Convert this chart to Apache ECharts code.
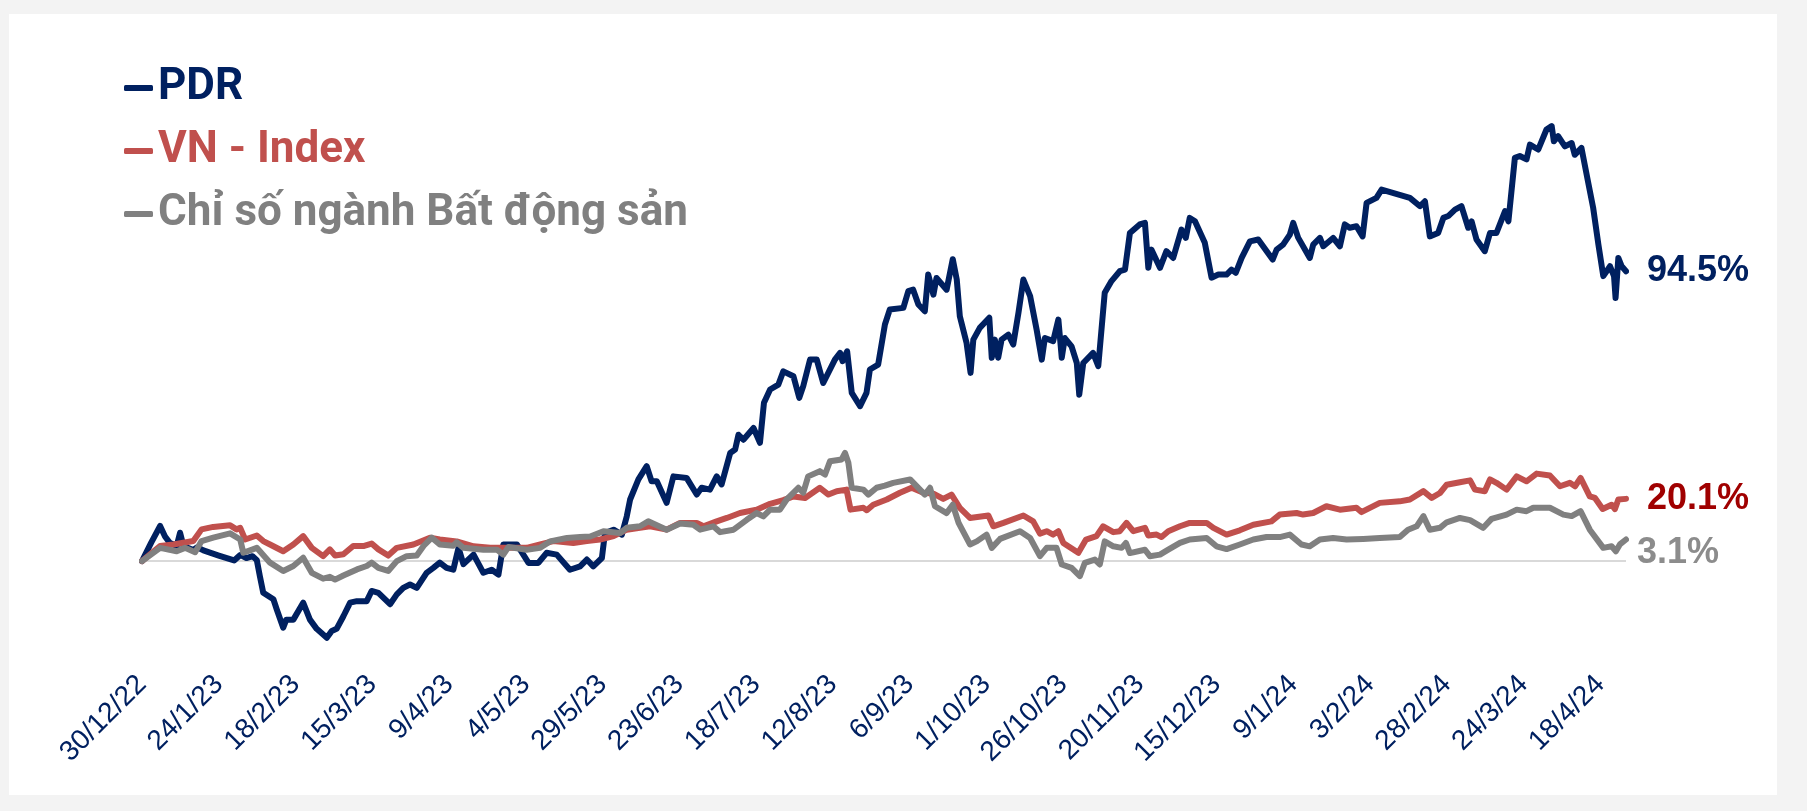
<!DOCTYPE html>
<html>
<head>
<meta charset="utf-8">
<title>PDR vs VN-Index</title>
<script src="https://cdn.jsdelivr.net/npm/echarts@6/dist/echarts.min.js"></script>
<style>
  html, body { margin: 0; padding: 0; background: #f3f3f3; }
  #chart { width: 1807px; height: 811px; }
</style>
</head>
<body>
<div id="chart"></div>
<script>
// x = days since 30/12/2022, y = cumulative return (%)
const tickLabels = ["30/12/22", "24/1/23", "18/2/23", "15/3/23", "9/4/23", "4/5/23", "29/5/23",
  "23/6/23", "18/7/23", "12/8/23", "6/9/23", "1/10/23", "26/10/23", "20/11/23", "15/12/23",
  "9/1/24", "3/2/24", "28/2/24", "24/3/24", "18/4/24"];

const seriesNames = ["PDR", "VN - Index", "Chỉ số ngành Bất động sản"];
const endTexts = ["94.5%", "20.1%", "3.1%"];

const pdrSeries = [
  [0,0],[3,6],[5.9,11.4],[7.5,8],[9,6],[11.3,4.9],[12.4,9.2],[13.5,4.9],[16.7,3.6],[18,4.5],[20,3.5],
  [25,1.8],[30,0.2],[32,2],[34,1],[36,1.6],[37.4,0.3],[38.4,-4.9],[39.5,-10.3],[42.8,-12.4],[43.9,-15.7],
  [46,-21.6],[47,-19],[49.3,-19],[52.5,-13.5],[54.7,-19],[56.9,-22],[60.2,-24.9],[61.8,-22.7],[63.4,-22],
  [65.6,-17.9],[67.8,-13.5],[70,-13],[73.2,-13],[74.8,-9.7],[77,-10.3],[80.8,-14],[83,-10.8],[85.1,-8.7],
  [87.3,-7.6],[89.5,-8.7],[92.7,-3.8],[94.9,-2.2],[97,-0.5],[99.2,-2.2],[101.4,-2.8],[103.1,4.3],[104.7,-1],
  [108,2.1],[111.2,-3.8],[113.9,-2.8],[116.1,-4.4],[117.7,5.4],[122.1,5.4],[125.9,-0.6],[129.1,-0.6],
  [131.8,2.7],[135.1,2.1],[139.4,-2.8],[142.7,-1.7],[144.9,0.5],[147,-1.7],[149.8,1],[150.8,9.1],
  [153.6,10.2],[156.3,8.6],[157.9,14.5],[159,20],[161.7,26.5],[164.4,30.8],[166,25.9],[167.7,25.9],
  [170.9,18.9],[173.1,27.5],[177.4,27],[180.7,21.6],[182.3,23.8],[185,23.2],[187.2,27.5],[188.8,24.9],
  [191.6,35.1],[193.2,36.2],[194.3,41],[195.9,39.4],[199.2,43.2],[201.3,38.4],[202.6,51.4],[204.6,55.7],
  [207.3,57.3],[208.9,61.6],[212.2,60],[214.1,53],[215.4,56.8],[217.6,65.4],[219.8,65.4],[221.9,57.8],
  [225.7,65.4],[227.4,67.6],[228.2,64.9],[229.7,68.1],[231.2,54.6],[233.9,50.3],[236,54.6],[237.1,62.2],
  [239.8,63.8],[242,76.8],[243.6,81.7],[248,82.2],[249.6,87.6],[251.2,88.1],[252.9,83.3],[255,81.1],
  [256.1,93],[257.8,86.5],[258.8,91.9],[262.1,88.1],[264.1,98],[265.4,91.4],[266.4,79.5],[268.6,70.8],
  [269.9,61.1],[270.8,71.9],[272.9,75.7],[276,79],[276.8,66],[277.8,71.9],[278.9,66],[280,71.9],
  [282.2,73.5],[283.8,70.3],[285.5,80.6],[287.1,91.4],[289.3,86],[291.4,75.2],[293.1,65.4],[294.1,72.4],
  [296.8,71.4],[298.5,78.4],[299.6,66],[300.6,72.4],[302.8,69.7],[304.5,64.3],[305.3,54],[306.6,64.3],
  [309.8,67.6],[311.5,63.3],[313.6,87.1],[315.8,90.9],[318.5,94.1],[320.2,94.6],[321.8,106.5],[325,109.3],
  [326.7,109.8],[327.8,95.2],[328.8,101.1],[331.6,95.2],[333.7,100.6],[335.9,98.4],[338.6,107.6],[340,104.9],
  [341.3,111.4],[343,110.3],[346.2,103.3],[348.4,92],[350.6,93],[353.3,93],[354.9,94.6],[356.3,93.6],
  [358.2,98.4],[360.9,103.8],[363.6,104.4],[368.3,97.9],[369.6,101.1],[371.7,102.7],[373.9,106],[375,109.8],
  [376.6,105],[380.4,98.4],[381.5,102.7],[383.7,104.9],[384.8,102.2],[388,104.9],[390.2,102.2],[391.8,109.3],
  [393.4,108.2],[395.6,108.7],[397.6,105.4],[398.9,116.3],[402.1,117.9],[403.8,120.6],[413,117.9],
  [416.3,115.2],[417.9,116.8],[419.5,105.4],[422.2,106.5],[423.9,111.4],[425.5,112],[427.7,114.1],
  [429.8,115.2],[432,108.2],[433.1,110.3],[434.7,104.4],[437.4,100.6],[439.1,106.5],[441.2,106.5],
  [444,113.6],[445.1,110.3],[447.2,130.9],[448.8,131.5],[451,130.4],[452.1,135.2],[454.8,133.6],
  [457.5,140.1],[459.2,141.2],[459.9,136.3],[461.3,137.9],[463.5,134.6],[465.7,135.7],[466.7,131.9],
  [468.9,134.1],[471.1,122.8],[472.7,114.7],[474.4,102.8],[476,92.5],[478.2,95.7],[479.5,92.5],[480,85.4],
  [480.9,98.4],[482,95.7],[483.4,94.1]
];

const vnIndexSeries = [
  [0,0],[5.9,4.9],[10.2,5.4],[16.7,6.5],[19.4,10.3],[23.2,11.1],[28.7,11.6],[30.8,10.3],[32,10.8],
  [33.6,7],[37.4,8.3],[39.5,6.5],[41.7,5.4],[46,3.2],[49.3,5.4],[52.5,8.1],[55.3,4.3],[59,1.6],[61.2,3.8],
  [62.9,1.8],[65.6,2.2],[68.8,4.9],[72.1,4.9],[74.8,5.7],[77,3.8],[80.2,1.8],[83,4.3],[88.4,5.4],
  [93.8,7.6],[97,7],[102.5,6.4],[108,4.8],[113.4,4.3],[117.7,4.3],[125.3,4.3],[129.7,5.4],[134,6.5],
  [140.5,5.9],[144.9,6.5],[149.2,7],[153.6,8.1],[157.9,10.2],[162.2,10.8],[165.5,11.3],[170.9,10.2],
  [175.3,12.4],[180.7,12.4],[182.9,11.3],[187.2,12.9],[190.5,14],[194.8,15.6],[200.2,16.7],[204.6,18.6],
  [208.9,19.8],[212.2,21],[216,20.5],[220.8,23.8],[223.6,21.6],[226.3,22.7],[229.5,23.2],[230.8,16.7],
  [235,17.3],[236.1,16.5],[238.2,18.3],[242.6,20],[246.9,22.2],[250.7,23.8],[254.5,22.2],[257.8,21.9],
  [261,20.2],[263.7,21.6],[266.4,17.3],[269.7,14],[275.7,14.8],[277.3,11.3],[280.6,12.4],[287.1,14.8],
  [290.3,12.9],[292.5,8.9],[294.7,9.7],[296.8,8.6],[298.5,9.7],[300.1,5.9],[305,2.7],[307.5,7],
  [310.9,8.1],[313.1,11.3],[316.4,9.4],[318.5,9.7],[320.7,12.4],[322.9,9.7],[326.7,10.8],[327.8,8.3],
  [330.5,8.6],[332.1,7.8],[334.3,9.7],[338.1,11.3],[341.3,12.4],[346.8,12.4],[349,10.8],[353.3,8.6],
  [357.6,10],[362,11.8],[367.9,12.9],[370.6,15.1],[376.1,15.6],[378.2,15.1],[381.5,15.6],[385.8,17.8],
  [390.2,16.7],[395.6,17.3],[397.2,15.9],[403.2,18.9],[409.7,19.4],[413,20],[417.4,22.7],[420.1,20.5],
  [422.8,22.1],[425,24.8],[429.3,25.6],[432.6,26.2],[434.2,23.2],[437.4,22.7],[439.1,26.5],[441.2,25.4],
  [444.5,23.2],[447.8,27.5],[451,25.9],[454.3,28.4],[458.6,27.8],[461.9,24.3],[465.1,25.4],[466.8,24.3],
  [468.6,27],[471.6,21],[473.3,20.5],[475.8,16.9],[478.7,18.3],[479.8,16.9],[480.9,20],[483.4,20.2]
];

const realEstateSeries = [
  [0,0],[5.9,4.3],[11.3,3.2],[14,4.3],[17.3,2.9],[19.4,6.5],[23.2,7.6],[28.7,9],[32,7],[33,2.7],
  [37.4,4.3],[41.7,-0.5],[46,-3.2],[49.3,-1.6],[52.5,1.1],[55.3,-3.8],[59,-5.7],[61.2,-5.1],[62.9,-6],
  [65.6,-4.7],[70,-2.7],[73.2,-1.6],[74.8,-0.5],[77,-2.2],[80.2,-3.2],[83,0],[86.2,1.6],[89.5,1.8],
  [91.7,4.9],[94.4,7.6],[97,5.4],[101.4,5],[102.5,6.1],[104.7,4.3],[111.2,3.7],[115.6,3.7],[117.7,2.1],
  [119.4,4.6],[125.3,3.7],[129.7,4.3],[132.9,6.4],[138.4,7.5],[142.7,7.8],[146,8],[150.3,9.7],[155.7,9.1],
  [157.9,10.8],[162.2,11.3],[164.9,12.9],[170.9,10.2],[175.3,12.2],[179.6,11.8],[181.8,10.2],[186.1,11.3],
  [188.3,9.4],[192.7,10.2],[197,13.4],[200.2,15.6],[202.4,14.5],[204.6,16.7],[207.8,16.7],[210,20],
  [213.8,23.8],[215.4,22.2],[217,27.5],[220.8,29.2],[222.5,28.1],[224.1,32.4],[227.9,33],[229,35.1],
  [230.1,31.9],[231.2,23.8],[235,23.2],[236.6,21.6],[239.3,23.8],[242,24.5],[244.7,25.4],[250.2,26.5],
  [255,21.6],[256.7,23.8],[258.3,17.8],[262.1,15.6],[264.1,18.3],[266,12.4],[269.7,5.4],[271.9,6.4],
  [275.1,8.6],[276.8,4.3],[279.5,7.2],[286,9.7],[289.3,7.5],[292.5,1.6],[294.7,4.3],[297.9,4.3],
  [299.6,-1.1],[302.8,-2.2],[305.5,-4.9],[307.1,-0.6],[310.4,0.5],[312,-1.1],[313.6,6.4],[316.4,4.8],
  [319.1,4.3],[320.5,5.9],[321.8,2.6],[326.7,3.7],[328.3,1.6],[331.6,2.1],[334.3,3.7],[338.1,5.9],
  [341.3,7],[346.8,7.5],[350,4.8],[353.3,3.9],[357.6,5.4],[362,7],[366.3,7.8],[370.6,7.8],[373.9,8.6],
  [377.7,5.4],[380.4,4.8],[383.7,7],[388,7.5],[392.4,7],[397.8,7.2],[403.2,7.5],[409.7,7.8],[412.4,10.2],
  [415.2,11.3],[417.4,14.6],[419.5,10.2],[422.8,10.8],[425,12.6],[429.3,14],[432.6,13.3],[436.9,10.8],
  [439.6,13.7],[444.5,15.1],[447.8,16.7],[451,16.2],[453.2,17.3],[458.6,17.3],[463,15.1],[465.7,14.6],
  [468.6,16.2],[471.6,10.2],[476,4.3],[478.7,4.8],[480.1,3.2],[481.4,5.4],[483.4,7]
];

const lineColors = ["#002060", "#c0504d", "#808080"];
const labelColors = ["#002060", "#a00000", "#8c8c8c"];

const chart = echarts.init(document.getElementById("chart"));

function makeSeries(i, data, labelOffset) {
  return {
    name: seriesNames[i],
    type: "line",
    data: data,
    showSymbol: false,
    symbol: "none",
    color: lineColors[i],
    lineStyle: { width: 6, color: lineColors[i], join: "round", cap: "round" },
    endLabel: {
      show: true,
      formatter: () => endTexts[i],
      color: labelColors[i],
      fontFamily: "'Liberation Sans', Arial, sans-serif",
      fontWeight: "bold",
      fontSize: 36,
      distance: 21,
      offset: labelOffset,
    },
  };
}

const series = [
  makeSeries(0, pdrSeries, [0, 0]),
  makeSeries(1, vnIndexSeries, [0, 0]),
  makeSeries(2, realEstateSeries, [-10, 14]),
];
// zero line
series[0].markLine = {
  silent: true,
  symbol: "none",
  label: { show: false },
  lineStyle: { color: "#d9d9d9", width: 2, type: "solid" },
  data: [{ yAxis: 0 }],
  z: 1,
};

chart.setOption({
  animation: false,
  backgroundColor: "#f3f3f3",
  graphic: [
    {
      type: "rect",
      shape: { x: 9, y: 14, width: 1768, height: 781 },
      style: { fill: "#ffffff" },
      z: -10,
    },
  ],
  legend: {
    orient: "vertical",
    left: 119,
    top: 58,
    icon: "roundRect",
    itemWidth: 29,
    itemHeight: 6,
    itemGap: 13,
    selectedMode: false,
    textStyle: {
      fontFamily: "Roboto, sans-serif",
      fontWeight: "bold",
      fontSize: 44,
      lineHeight: 50,
    },
    data: seriesNames.map((n, i) => ({ name: n, textStyle: { color: lineColors[i] } })),
  },
  grid: { left: 142, right: 181, top: 99, bottom: 139, containLabel: false },
  xAxis: {
    type: "value",
    min: 0,
    max: 483.4,
    interval: 25,
    axisLine: { show: false },
    axisTick: { show: false },
    splitLine: { show: false },
    axisLabel: {
      rotate: 45,
      margin: 8,
      color: "#002060",
      fontFamily: "'Liberation Sans', Arial, sans-serif",
      fontSize: 28,
      showMaxLabel: false,
      formatter: (v) => (v % 25 === 0 ? tickLabels[v / 25] || "" : ""),
    },
  },
  yAxis: {
    type: "value",
    min: -36,
    max: 150,
    show: false,
    splitLine: { show: false },
  },
  series: series,
});
</script>
</body>
</html>
